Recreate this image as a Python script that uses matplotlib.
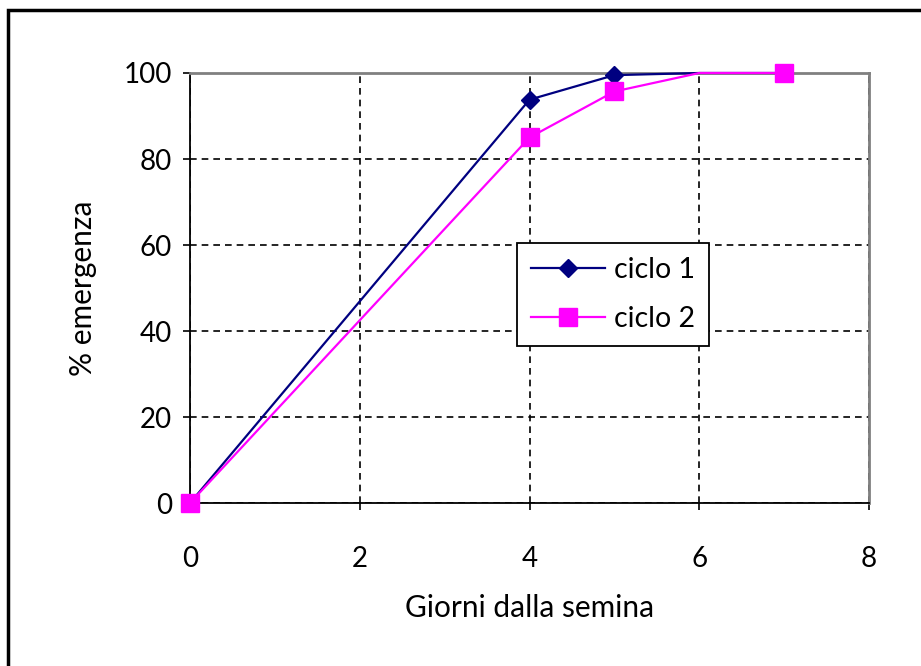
import numpy as np
import matplotlib.pyplot as plt
from matplotlib.patches import Rectangle

plt.rcParams['font.family'] = ['Lato', 'DejaVu Sans']

# giorni e % emergenza
giorni = [0, 4, 5, 6, 7]
ciclo1 = [0, 93.8, 99.5, 100, 100]
ciclo2 = [0, 85.0, 95.7, 100, 100]
marcati = [0, 1, 2, 4]   # il punto a 6 giorni non ha marcatore

fig = plt.figure(figsize=(9.21, 6.66), dpi=100)
ax = fig.add_axes([0.2063, 0.2447, 0.7373, 0.6457])

ax.plot(giorni, ciclo1, color='#000080', lw=1.6, marker='D', ms=9.5,
        markevery=marcati, label='ciclo 1', zorder=3, clip_on=False)
ax.plot(giorni, ciclo2, color='#ff00ff', lw=1.6, marker='s', ms=13.5,
        markevery=marcati, label='ciclo 2', zorder=4, clip_on=False)

ax.set_xlim(0, 8)
ax.set_ylim(0, 100)
ax.set_xticks(np.arange(0, 9, 2))
ax.set_yticks(np.arange(0, 101, 20))
ax.grid(True, color='black', linestyle=(0, (4, 3)), lw=1.2)
ax.tick_params(direction='out', length=5, width=1.2, labelsize=20)
ax.tick_params(axis='x', pad=26)
ax.tick_params(axis='y', pad=8)

for s in ['left', 'bottom']:
    ax.spines[s].set_color('black')
    ax.spines[s].set_linewidth(1.3)
for s in ['top', 'right']:
    ax.spines[s].set_color('#808080')
    ax.spines[s].set_linewidth(2)

ax.set_xlabel('Giorni dalla semina', fontsize=21.5, labelpad=16)
ax.set_ylabel('% emergenza', fontsize=21.5, labelpad=19)

leg = ax.legend(loc='upper left', bbox_to_anchor=(0.4816, 0.605), fontsize=20.5,
                fancybox=False, edgecolor='black', framealpha=1,
                handlelength=2.6, handletextpad=0.3, borderpad=0.5,
                labelspacing=0.8, borderaxespad=0)
leg.get_frame().set_linewidth(1.3)

fig.patches.append(Rectangle((8 / 921, -0.1), 1.2, 1 - 10 / 666 + 0.1,
                             transform=fig.transFigure, fill=False,
                             edgecolor='black', lw=2.5))

plt.savefig('out.png', dpi=100)
